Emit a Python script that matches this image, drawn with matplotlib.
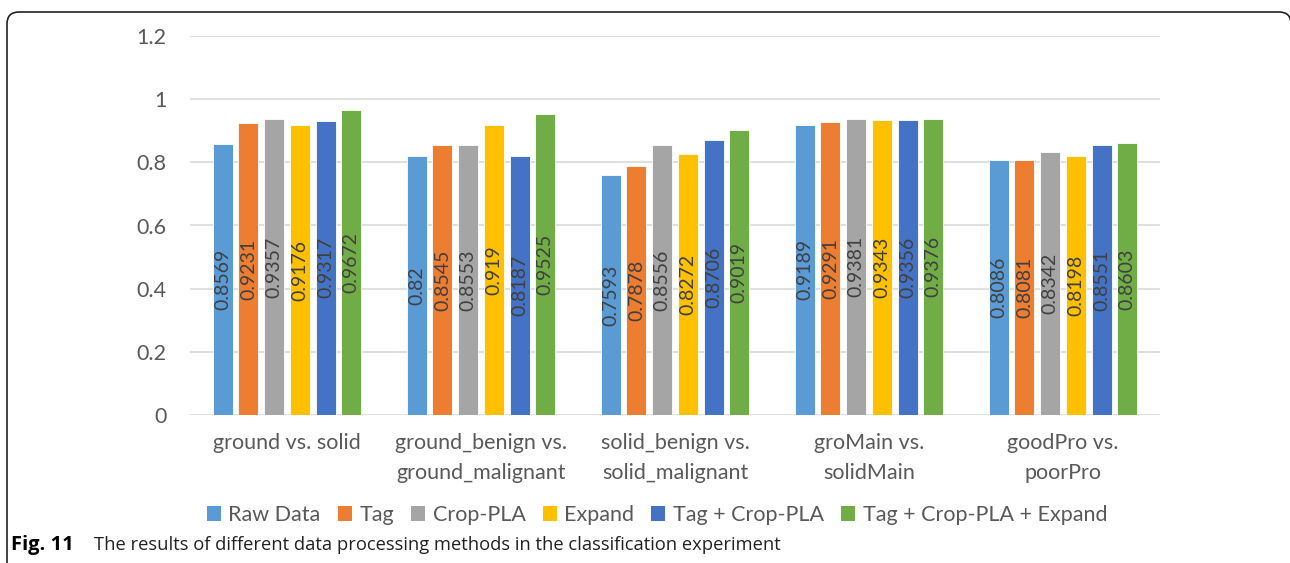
import matplotlib.pyplot as plt
from matplotlib.patches import Patch, FancyBboxPatch
from matplotlib.transforms import IdentityTransform
import numpy as np

categories = ["ground vs. solid", "ground_benign vs.\nground_malignant",
              "solid_benign vs.\nsolid_malignant", "groMain vs.\nsolidMain",
              "goodPro vs.\npoorPro"]
methods = ["Raw Data", "Tag", "Crop-PLA", "Expand", "Tag + Crop-PLA",
           "Tag + Crop-PLA + Expand"]

raw_data = [0.8569, 0.82, 0.7593, 0.9189, 0.8086]
tag = [0.9231, 0.8545, 0.7878, 0.9291, 0.8081]
crop_pla = [0.9357, 0.8553, 0.8556, 0.9381, 0.8342]
expand = [0.9176, 0.919, 0.8272, 0.9343, 0.8198]
tag_crop = [0.9317, 0.8187, 0.8706, 0.9356, 0.8551]
tag_crop_expand = [0.9672, 0.9525, 0.9019, 0.9376, 0.8603]

yticks = [0, 0.2, 0.4, 0.6, 0.8, 1, 1.2]
ytick_labels = ["0", "0.2", "0.4", "0.6", "0.8", "1", "1.2"]

series = [raw_data, tag, crop_pla, expand, tag_crop, tag_crop_expand]
colors = ["#5B9BD5", "#ED7D31", "#A5A5A5", "#FFC000", "#4472C4", "#70AD47"]

FONT = "Lato"
TEXT = "#595959"

fig = plt.figure(figsize=(12.9, 5.63), dpi=100)
ax = fig.add_axes([190 / 1290, 1 - 415 / 563, 970 / 1290, 379 / 563])

x = np.arange(len(categories))
pitch = 0.1325
width = 0.103

for i, (vals, c) in enumerate(zip(series, colors)):
    pos = x + (i - 2.5) * pitch
    ax.bar(pos, vals, width, color=c, edgecolor="white", linewidth=0.6,
           zorder=3, label=methods[i])
    for xp, v in zip(pos, vals):
        ax.text(xp, v / 2, f"{v:g}", rotation=90, ha="center", va="center",
                fontsize=14, family=FONT, color="#404040", zorder=4)

ax.set_xlim(-0.5, len(categories) - 0.5)
ax.set_ylim(0, 1.2)
ax.set_yticks(yticks)
ax.set_yticklabels(ytick_labels)
ax.set_xticks(x)
ax.set_xticklabels(categories)
ax.grid(axis="y", color="#D9D9D9", linewidth=1.2, zorder=0)
for s in ax.spines.values():
    s.set_visible(False)
ax.tick_params(length=0, colors=TEXT, labelsize=15.5)
ax.tick_params(axis="y", pad=17)
ax.tick_params(axis="x", pad=13)
for lab in ax.get_xticklabels() + ax.get_yticklabels():
    lab.set_family(FONT)
    lab.set_linespacing(1.6)

handles = [Patch(facecolor=c, label=m) for c, m in zip(colors, methods)]
fig.legend(handles=handles, loc="center", bbox_to_anchor=(657 / 1290, 1 - 515 / 563),
           ncol=6, frameon=False, handlelength=0.65, handleheight=0.65,
           handletextpad=0.35, columnspacing=0.8,
           prop={"family": FONT, "size": 15.5}, labelcolor=TEXT)

# rounded frame round the chart (pixel coords), bottom and right run off the page
frame = FancyBboxPatch((7, -30), 1284, 563 - 12 + 30,
                       boxstyle="round,pad=0,rounding_size=12",
                       transform=IdentityTransform(), fill=False,
                       edgecolor="#222222", linewidth=1.2)
fig.patches.append(frame)

fig.text(11 / 1290, 1 - 545 / 563, "Fig. 11", fontsize=14.5, fontweight="bold",
         family="Open Sans", va="center", ha="left")
fig.text(94 / 1290, 1 - 545 / 563,
         "The results of different data processing methods in the classification experiment",
         fontsize=13.2, family="Open Sans", va="center", ha="left", color="#222222")

plt.savefig("out.png", dpi=100)
